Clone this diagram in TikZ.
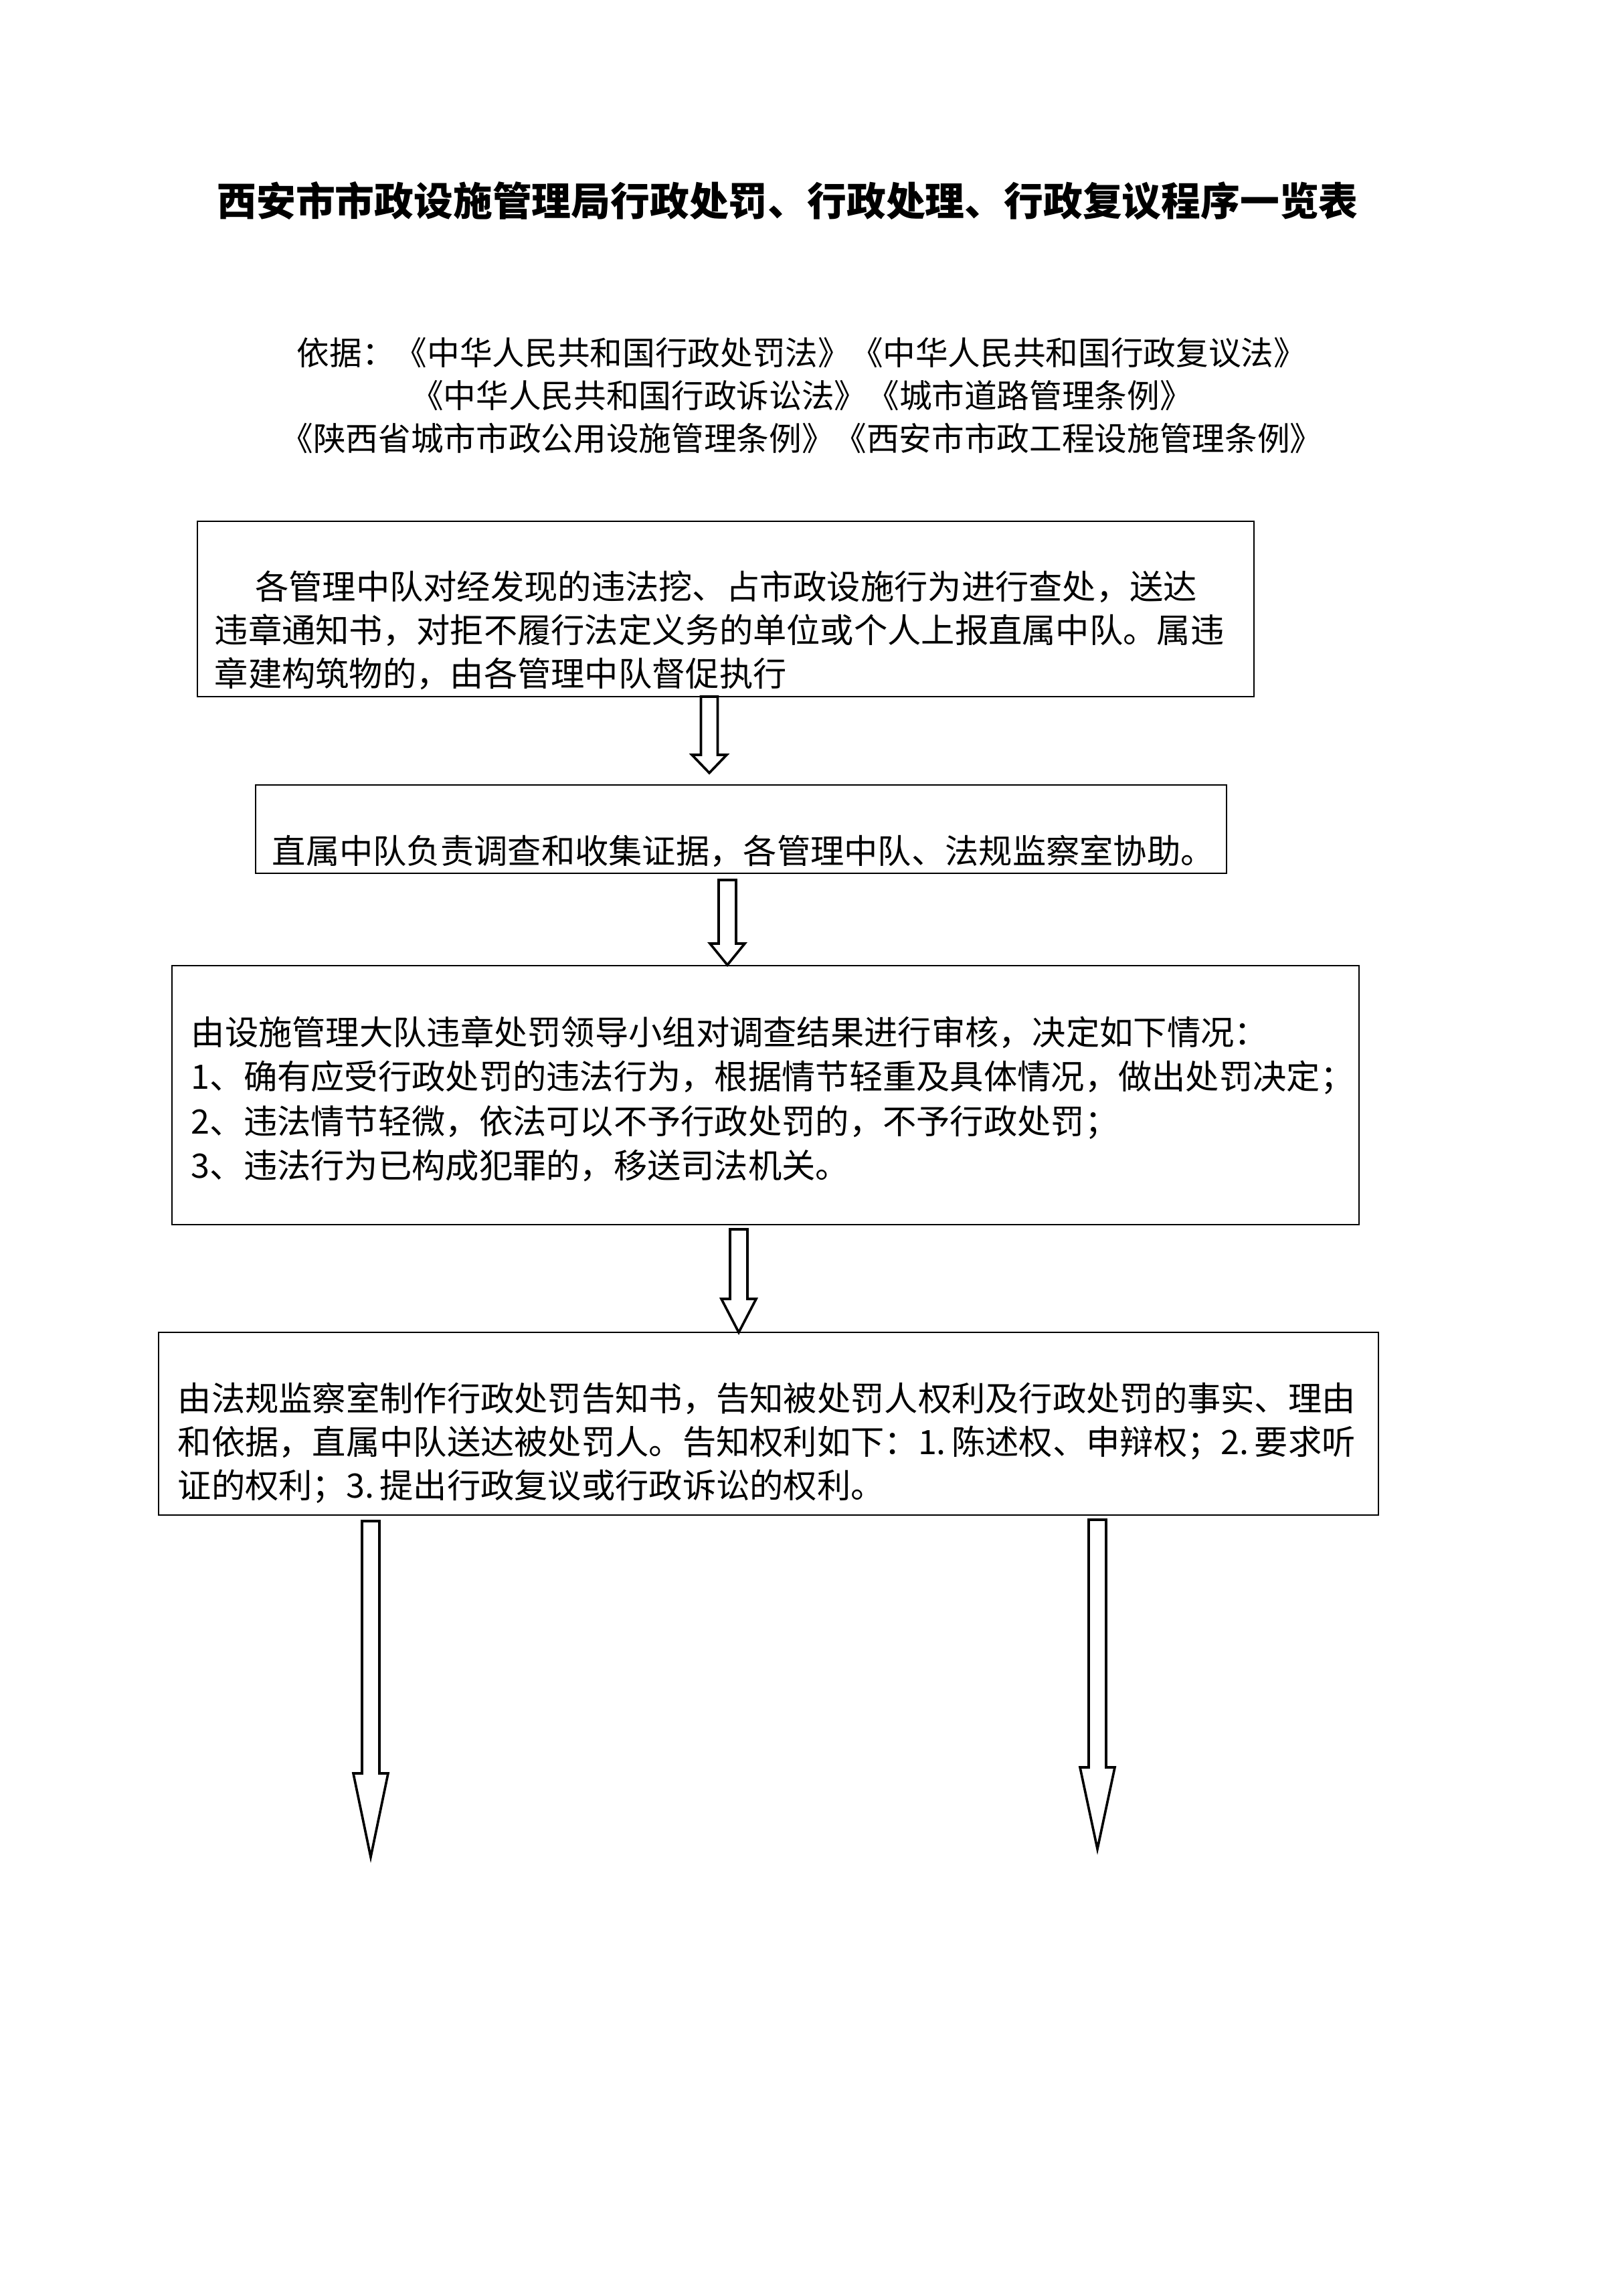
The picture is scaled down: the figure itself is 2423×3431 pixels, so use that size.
\documentclass[tikz,border=0pt]{standalone}
\usepackage{fontspec}
\setmainfont{Noto Sans CJK SC}
\usetikzlibrary{calc,fit}

% hollow block arrow: #1 start point, #2 shaft length, #3 head length, #4 shaft half width, #5 head half width
\newcommand{\blockarrow}[5]{%
  \draw[arrowline] ($#1+(-#4,0)$) -- ++(0,#2) -- ++(#4-#5,0) -- ++(#5,#3)
    -- ++(#5,-#3) -- ++(#4-#5,0) -- ++(0,-#2) -- cycle;}
% number of a listed right
\newcommand{\rightno}[1]{\makebox[1em][l]{#1.}}

\begin{document}
\begin{tikzpicture}[x=0.086669mm, y=-0.086669mm,
    box/.style={draw, line width=0.7pt, inner sep=0pt, outer sep=0pt},
    boxtext/.style={anchor=west, align=left, inner sep=0pt, font=\fontsize{12.4pt}{16pt}\selectfont},
    arrowline/.style={draw, line width=0.9pt, line join=miter}]
  \fill[white] (0,0) rectangle (2423,3431);

  \node[inner sep=0pt, font=\fontsize{14.5pt}{18pt}\selectfont\bfseries] (title) at (1177,300)
    {西安市市政设施管理局行政处罚、行政处理、行政复议程序一览表};
  \node[inner sep=0pt, align=center, font=\fontsize{12pt}{15.7pt}\selectfont] (basis) at (1198,591)
    {依据：《中华人民共和国行政处罚法》《中华人民共和国行政复议法》\\
     《中华人民共和国行政诉讼法》《城市道路管理条例》\\
     《陕西省城市市政公用设施管理条例》《西安市市政工程设施管理条例》};

  \node[box, fit={(295,779) (1874,1041)}] (box1) {};
  \node[boxtext] (find) at (320,942)
    {\hspace*{1.2em}各管理中队对经发现的违法挖、占市政设施行为进行查处，送达\\
     违章通知书，对拒不履行法定义务的单位或个人上报直属中队。属违\\
     章建构筑物的，由各管理中队督促执行};

  \node[box, fit={(382,1173) (1833,1305)}] (box2) {};
  \node[boxtext] (probe) at (406,1272)
    {直属中队负责调查和收集证据，各管理中队、法规监察室协助。};

  \node[box, fit={(257,1443) (2031,1830)}] (box3) {};
  \node[boxtext, font=\fontsize{12.4pt}{16.4pt}\selectfont] (review) at (285,1642)
    {由设施管理大队违章处罚领导小组对调查结果进行审核，决定如下情况：\\
     1、确有应受行政处罚的违法行为，根据情节轻重及具体情况，做出处罚决定；\\
     2、违法情节轻微，依法可以不予行政处罚的，不予行政处罚；\\
     3、违法行为已构成犯罪的，移送司法机关。};

  \node[box, fit={(237,1991) (2060,2264)}] (box4) {};
  \node[boxtext] (notice) at (265,2156)
    {由法规监察室制作行政处罚告知书，告知被处罚人权利及行政处罚的事实、理由\\
     和依据，直属中队送达被处罚人。告知权利如下：\rightno{1}陈述权、申辩权；\rightno{2}要求听\\
     证的权利；\rightno{3}提出行政复议或行政诉讼的权利。};

  \blockarrow{(box1.south)+(-24.5,0)}{87}{27}{12.5}{26}
  \blockarrow{(box2.south)+(-20.5,10)}{95}{32}{13}{26}
  \blockarrow{(box3.south)+(-40,7)}{104}{50}{13}{26}
  \blockarrow{(box4.south)+(-594.5,9)}{377}{125}{13}{26}
  \blockarrow{(box4.south)+(491.5,7)}{370}{122}{13}{26}
\end{tikzpicture}
\end{document}
